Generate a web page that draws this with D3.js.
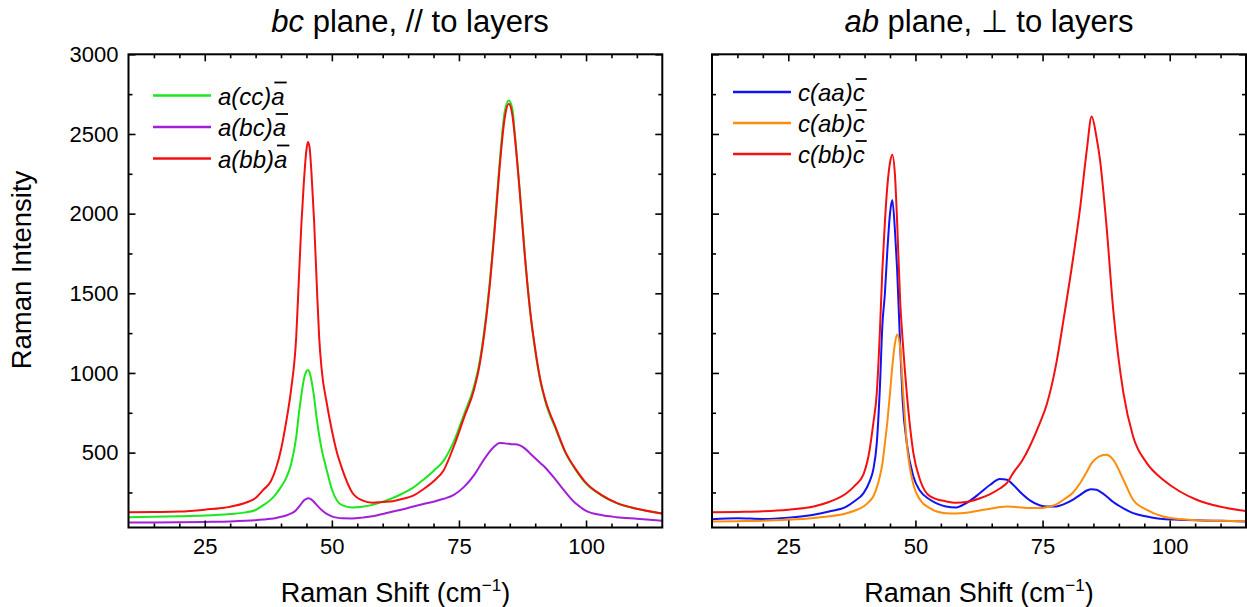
<!DOCTYPE html>
<html><head><meta charset="utf-8">
<script src="https://cdn.jsdelivr.net/npm/d3@7"></script>
<style>
body{margin:0;background:#fff}
svg{display:block}
text{font-family:Arial,"Liberation Sans",sans-serif;fill:#000}
</style>
</head><body>
<svg id="chart" width="1247" height="607"></svg>
<script>
// ---------------- data ----------------
const xLeft = [10,15,20,25,30,33,35,36.5,38,39,40,41,42,43,43.5,44,44.5,45,45.3,45.6,46,46.5,47,47.5,48,49,50,51,52,54,56,58,60,62,64,66,68,70,72,74,76,78,79,80,81,82,83,84,84.8,85.5,86,87,88,89,90,91,92,94,96,98,100,103,106,110,115];
const ccA = [95,97,100,105,115,125,140,170,205,240,285,340,430,600,740,860,960,1010,1018,1005,950,850,720,610,520,390,270,200,170,155,160,172,192,215,245,280,330,385,450,570,740,920,1060,1270,1550,1910,2320,2640,2710,2660,2500,2130,1730,1390,1140,950,820,650,495,390,305,232,183,147,117];
const bcA = [62,62,63,65,68,72,76,80,85,90,97,105,118,140,160,180,200,210,213,212,205,190,172,155,140,115,100,92,88,87,92,100,115,130,145,162,178,192,210,235,285,360,410,460,505,540,560,558,555,552,552,545,525,495,465,435,405,330,250,180,135,108,95,85,73];
const bbA = [125,127,130,142,160,185,215,266,320,400,520,690,900,1230,1580,1930,2200,2400,2450,2420,2250,1960,1580,1225,1020,810,640,500,400,250,200,185,190,195,210,230,270,320,390,540,720,900,1040,1250,1530,1890,2290,2600,2690,2620,2480,2120,1720,1390,1150,960,830,660,500,395,310,235,185,148,118];

const xRight = [10,15,20,25,30,33,36.5,38,39.8,41,41.7,42.4,43,43.5,44,44.5,45,45.45,46,46.4,47,47.5,48.3,49.6,50.9,52.9,56,58,60,62.7,64.7,66.6,68,69.2,71,72.5,74.4,75.8,77.7,79.1,81,82.4,83.7,84.65,85.6,86.3,87.5,88.9,90.9,92.8,95.5,98.7,102,105.3,110,115];
const aaC = [82,88,84,92,110,130,162,195,246,320,392,560,900,1300,1500,1780,2000,2085,1880,1650,1170,820,560,350,260,204,162,156,183,246,298,334,330,298,240,200,170,162,162,175,205,235,262,270,267,255,228,190,150,120,99,83,79,75,72,68];
const abC = [68,70,72,78,89,100,120,135,162,195,225,280,350,430,559,700,873,1040,1190,1242,1160,920,559,300,204,150,120,118,122,137,148,158,162,160,155,152,152,158,175,204,250,309,380,434,465,478,486,455,330,204,141,99,83,75,72,70];
const bbC = [125,128,132,142,162,190,246,290,365,518,680,873,1250,1650,1950,2180,2320,2370,2230,1950,1450,1200,873,497,330,225,194,185,190,214,240,275,310,371,450,540,680,800,1060,1330,1720,2040,2400,2610,2480,2336,1950,1395,873,601,434,330,256,204,160,133];

const xMajorTicks = [25,50,75,100];
const xMinorTicks = [15,20,30,35,40,45,55,60,65,70,80,85,90,95,105,110];
const yMajorTicks = [500,1000,1500,2000,2500,3000];
const yMinorTicks = [250,750,1250,1750,2250,2750];

const leftNames = ["a(cc)","a(bc)","a(bb)"];
const leftBar = "a";
const leftColors = ["#1ee61e","#a21fd8","#f41010"];
const rightNames = ["c(aa)","c(ab)","c(bb)"];
const rightBar = "c";
const rightColors = ["#1212f2","#ff8c0a","#f41010"];

// ---------------- drawing ----------------
const svg = d3.select("#chart");
const yTop = 54.3, yBot = 527.5;

function panel(opt){
  const g = svg.append("g");
  const x = d3.scaleLinear().domain([10,115]).range([opt.x0,opt.x1]);
  const y = d3.scaleLinear().domain([30,3000]).range([yBot,yTop]);

  const clipId = "clip"+opt.id;
  svg.append("clipPath").attr("id",clipId).append("rect")
     .attr("x",opt.x0).attr("y",yTop).attr("width",opt.x1-opt.x0).attr("height",yBot-yTop);
  const line = d3.line().x((d,i)=>x(opt.xs[i])).y(d=>y(d)).curve(d3.curveMonotoneX);
  const cg = g.append("g").attr("clip-path","url(#"+clipId+")");
  opt.series.forEach((s,k)=>{
    cg.append("path").attr("d",line(s)).attr("fill","none")
      .attr("stroke",opt.colors[k]).attr("stroke-width",2).attr("stroke-linejoin","round");
  });

  function ax(gen, tr, vals, size, labels, pad){
    const a = gen.tickValues(vals).tickSize(-size).tickPadding(pad||0)
                 .tickFormat(labels ? d3.format("d") : "");
    const ag = g.append("g").attr("transform",tr).call(a);
    ag.select(".domain").remove();
    ag.selectAll("line").attr("stroke","#000").attr("stroke-width",1.6);
    ag.selectAll("text").style("font-size","22px").attr("fill","#000");
    return ag;
  }
  ax(d3.axisBottom(x), `translate(0,${yBot})`, xMajorTicks, 7, true, 11);
  ax(d3.axisBottom(x), `translate(0,${yBot})`, xMinorTicks, 4, false);
  ax(d3.axisTop(x), `translate(0,${yTop})`, xMajorTicks, 7, false);
  ax(d3.axisTop(x), `translate(0,${yTop})`, xMinorTicks, 4, false);
  ax(d3.axisLeft(y), `translate(${opt.x0},0)`, yMajorTicks, 7, opt.yLabels, 10);
  ax(d3.axisLeft(y), `translate(${opt.x0},0)`, yMinorTicks, 4, false);
  ax(d3.axisRight(y), `translate(${opt.x1},0)`, yMajorTicks, 7, false);
  ax(d3.axisRight(y), `translate(${opt.x1},0)`, yMinorTicks, 4, false);

  g.append("rect").attr("x",opt.x0).attr("y",yTop).attr("width",opt.x1-opt.x0).attr("height",yBot-yTop)
   .attr("fill","none").attr("stroke","#000").attr("stroke-width",2);

  const t = g.append("text").attr("x",opt.titleX).attr("y",32).attr("text-anchor","middle").style("font-size","31px");
  t.append("tspan").style("font-style","italic").text(opt.titleIt);
  t.append("tspan").text(opt.titleRest);

  const xt = g.append("text").attr("x",(opt.x0+opt.x1)/2).attr("y",602).attr("text-anchor","middle").style("font-size","27px");
  xt.append("tspan").text("Raman Shift (cm");
  xt.append("tspan").attr("dy",-11).style("font-size","17px").text("\u22121");
  xt.append("tspan").attr("dy",11).text(")");

  opt.names.forEach((nm,k)=>{
    const ly = opt.legY[k];
    g.append("line").attr("x1",opt.legX).attr("x2",opt.legX+58).attr("y1",ly).attr("y2",ly)
      .attr("stroke",opt.colors[k]).attr("stroke-width",2.5);
    const tx = g.append("text").attr("x",opt.legX+65).attr("y",ly+9)
      .style("font-size","24px").style("font-style","italic").text(nm+opt.bar);
    const n = (nm+opt.bar).length;
    const ext = tx.node().getExtentOfChar(n-1);
    g.append("line").attr("x1",ext.x+3).attr("x2",ext.x+ext.width+2)
      .attr("y1",ly-13).attr("y2",ly-13).attr("stroke","#000").attr("stroke-width",1.8);
  });
}

panel({id:"L", x0:128.5, x1:662.3, xs:xLeft, series:[ccA,bcA,bbA], colors:leftColors,
  yLabels:true, titleX:410, titleIt:"bc", titleRest:" plane, // to layers",
  names:leftNames, bar:leftBar, legX:153, legY:[95.5,127,158.5]});
panel({id:"R", x0:712, x1:1246, xs:xRight, series:[aaC,abC,bbC], colors:rightColors,
  yLabels:false, titleX:989, titleIt:"ab", titleRest:" plane, \u22a5 to layers",
  names:rightNames, bar:rightBar, legX:733, legY:[92,123,154]});

svg.append("text").attr("transform","translate(31,270) rotate(-90)").attr("text-anchor","middle")
  .style("font-size","27.5px").text("Raman Intensity");
</script>
</body></html>
